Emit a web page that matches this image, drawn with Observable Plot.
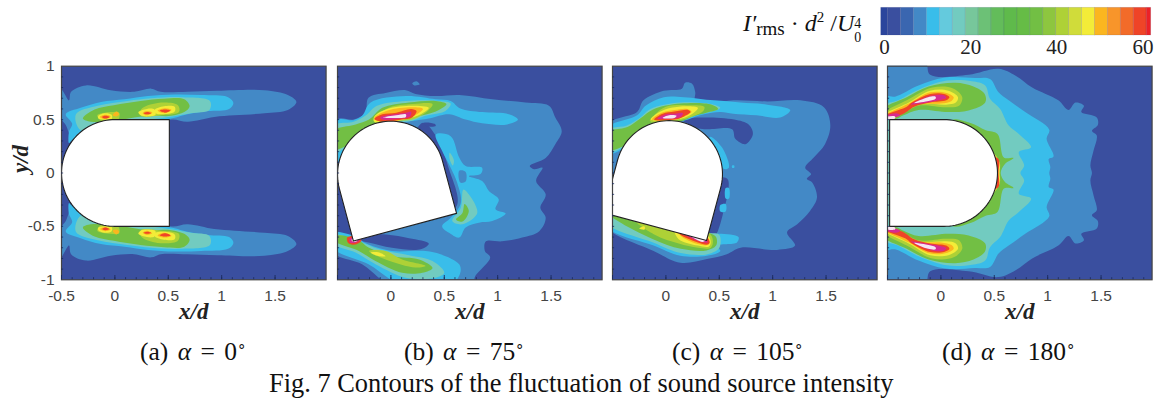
<!DOCTYPE html>
<html><head><meta charset="utf-8">
<script src="https://cdn.jsdelivr.net/npm/d3@7"></script>
<script src="https://cdn.jsdelivr.net/npm/@observablehq/plot@0.6"></script>
<style>
html,body{margin:0;padding:0;background:#fff;width:1162px;height:401px;overflow:hidden}
#root{position:relative;width:1162px;height:401px}
#root svg{position:absolute;background:transparent;max-width:none}
.t{position:absolute;font-family:"Liberation Serif",serif;color:#111;white-space:nowrap;line-height:1}
</style></head><body><div id="root"></div>
<script>
// colour bar: band edges (value units) and band colours
const bandEdges=[0.85,3.85,6.85,9.85,12.85,15.85,18.85,21.85,24.85,27.85,30.85,33.85,36.85,39.85,42.85,45.85,48.85,51.85,54.85,57.85,60.85,63,68];
const bandColors=["#2b459c","#3a4f9f","#3a66b0","#4389c6","#39bdea","#64cadd","#72cbc0","#77c79b","#6cc176","#63bc5a","#5fba4b","#66bc46","#72bf44","#8dc63f","#aed136","#d0dc3a","#f3ec38","#fbb61f","#f8952a","#f26b29","#ef4427","#ec2127","#d62b8f","#f6e6f2"];
const barTicks=[0,20,40,60];
const captions=["(a) ","(b) ","(c) ","(d) "];
const alphas=[0,75,105,180];

// iso-level regions: [level, x,y, x,y, ...] in x/d, y/d, painted from low to high
const panelA=[
[8,-0.5,0.78,-0.43,0.68,-0.41,0.76,-0.27,0.82,-0.04,0.775,0.18,0.76,0.34,0.79,0.43,0.76,0.68,0.76,0.96,0.77,1.4,0.775,1.62,0.73,1.7,0.665,1.62,0.59,1.4,0.56,1.12,0.54,0.93,0.525,0.68,0.48,0.525,0.5,0.3,0.4,-0.38,0.31,-0.46,0.45,-0.5,0.51],
[11,-0.46,0.55,-0.32,0.61,-0.13,0.665,0.09,0.69,0.31,0.72,0.56,0.735,0.81,0.73,1.06,0.71,1.11,0.655,1.07,0.6,0.87,0.58,0.68,0.55,0.525,0.51,-0.01,0.46,-0.29,0.385,-0.41,0.3,-0.43,0.28,-0.43,0.385,-0.4,0.46],
[17,-0.365,0.55,-0.16,0.63,0.12,0.675,0.34,0.7,0.62,0.71,0.89,0.675,0.885,0.59,0.71,0.56,0.54,0.53,0.02,0.46,-0.32,0.4],
[36,-0.3,0.51,-0.19,0.595,-0.01,0.635,0.24,0.675,0.46,0.695,0.65,0.69,0.7,0.625,0.65,0.57,0.525,0.535,0.31,0.535,0,0.49,-0.225,0.48],
[42,-0.165,0.54,-0.04,0.57,0.04,0.565,0.03,0.5,-0.13,0.49],
[42,0.245,0.595,0.4,0.655,0.59,0.635,0.6,0.57,0.43,0.54,0.245,0.535],
[48,-0.155,0.535,-0.09,0.56,-0.03,0.545,-0.03,0.505,-0.1,0.5,-0.155,0.51],
[50,-0.02,0.54,0.015,0.575,0.04,0.55,0.015,0.53],
[48,0.22,0.57,0.3,0.6,0.37,0.595,0.38,0.545,0.3,0.53,0.24,0.54],
[48,0.37,0.59,0.46,0.625,0.56,0.62,0.56,0.575,0.46,0.55,0.38,0.56],
[50,-0.14,0.525,-0.09,0.545,-0.04,0.53,-0.09,0.505],
[50,0.26,0.56,0.3,0.58,0.35,0.565,0.3,0.54],
[50,0.4,0.585,0.46,0.605,0.53,0.59,0.46,0.56],
[58,-0.12,0.525,-0.09,0.535,-0.05,0.525,-0.09,0.51],
[58,0.27,0.56,0.3,0.57,0.34,0.56,0.3,0.55],
[58,0.42,0.585,0.47,0.595,0.52,0.585,0.47,0.565]];

const panelB=[
[8,-0.5,0.5,-0.35,0.5,-0.24,0.565,-0.21,0.705,-0.05,0.75,0.14,0.775,0.23,0.74,0.42,0.72,0.64,0.73,0.95,0.69,1.26,0.66,1.48,0.63,1.54,0.52,1.6,0.39,1.54,0.27,1.45,0.14,1.3,0.065,1.34,0.035,1.42,0.05,1.36,-0.075,1.45,-0.2,1.4,-0.325,1.45,-0.42,1.39,-0.545,1.23,-0.605,1.04,-0.64,0.89,-0.64,0.88,-0.73,0.93,-0.79,0.79,-0.965,0.76,-1.05,0.01,-1.05,-0.27,-0.855,-0.55,-0.73,-0.55,0],
[8,0.2,0.84,0.24,0.86,0.27,0.83,0.22,0.82],
[0,-0.36,-0.62,-0.14,-0.575,0.17,-0.61,0.355,-0.66,0.28,-0.715,0.01,-0.7,-0.21,-0.65],
[0,-0.55,0,-0.3,-0.4,-0.35,-0.6,-0.55,-0.55],
[0,0.3,0.47,0.42,0.35,0.54,0.05,0.62,-0.3,0.45,-0.4,0.2,-0.3,0.2,0.3],
[0,0.31,0.47,0.41,0.46,0.42,0.44,0.33,0.44],
[11,-0.5,0.495,-0.35,0.495,-0.27,0.535,-0.19,0.66,0.14,0.72,0.42,0.69,0.56,0.675,0.65,0.605,0.855,0.57,1.105,0.55,1.19,0.5,1.09,0.455,0.855,0.465,0.7,0.5,0.545,0.55,0.355,0.51,0.01,0.44,-0.455,0.11,-0.55,0.14],
[11,0.42,0.36,0.56,0.345,0.64,0.145,0.7,0.065,0.855,0.05,0.84,-0.01,0.73,-0.03,0.855,-0.075,0.92,-0.17,1.01,-0.245,0.98,-0.34,1.075,-0.38,0.95,-0.45,0.825,-0.465,0.7,-0.51,0.64,-0.605,0.545,-0.56,0.48,-0.5,0.56,-0.42,0.655,-0.28,0.62,-0.09,0.56,0.05,0.48,0.205],
[8,0.64,0.02,0.7,0.01,0.7,-0.08,0.65,-0.09],
[17,0.68,-0.155,0.81,-0.37,0.67,-0.48,0.575,-0.45,0.655,-0.325],
[17,0.55,0.19,0.59,0.12,0.58,0.07,0.55,0.13],
[36,0.69,-0.29,0.73,-0.355,0.67,-0.455,0.61,-0.435,0.67,-0.375],
[11,-0.55,-0.56,-0.36,-0.585,-0.21,-0.67,0.01,-0.73,0.325,-0.73,0.465,-0.76,0.64,-0.855,0.65,-0.935,0.56,-1.05,0.105,-1.05,-0.21,-0.855,-0.55,-0.7],
[17,-0.52,-0.58,-0.3,-0.64,-0.11,-0.715,0.17,-0.77,0.39,-0.825,0.5,-0.935,0.42,-0.98,0.14,-0.98,-0.14,-0.856,-0.33,-0.745,-0.52,-0.67],
[36,-0.52,-0.59,-0.315,-0.62,-0.205,-0.7,0.015,-0.78,0.265,-0.81,0.39,-0.89,0.295,-0.935,0.105,-0.935,-0.145,-0.825,-0.3,-0.73,-0.52,-0.64],
[42,-0.205,-0.73,-0.05,-0.73,0.105,-0.81,0.325,-0.87,0.23,-0.885,-0.05,-0.81],
[48,-0.19,-0.745,-0.11,-0.745,-0.05,-0.78,-0.145,-0.77],
[58,-0.41,-0.605,-0.345,-0.59,-0.275,-0.63,-0.33,-0.67,-0.4,-0.655],
[65,-0.39,-0.62,-0.345,-0.605,-0.295,-0.63,-0.34,-0.655,-0.385,-0.65],
[70,-0.37,-0.625,-0.34,-0.615,-0.315,-0.635,-0.35,-0.645],
[17,-0.55,0.44,-0.35,0.48,-0.24,0.535,-0.13,0.63,0.14,0.675,0.45,0.675,0.56,0.65,0.51,0.58,0.325,0.535,0.2,0.49,-0.2,0.44,-0.425,0.24,-0.55,0.175],
[36,-0.55,0.39,-0.33,0.455,-0.205,0.5,-0.08,0.61,0.17,0.66,0.42,0.675,0.52,0.645,0.45,0.59,0.28,0.535,0.01,0.49,-0.2,0.44,-0.425,0.25,-0.55,0.22],
[42,-0.145,0.52,-0.02,0.61,0.2,0.645,0.39,0.645,0.355,0.59,0.2,0.5,-0.05,0.49,-0.145,0.47],
[48,-0.15,0.535,-0.035,0.6,0.2,0.63,0.355,0.61,0.28,0.55,0.14,0.505,-0.08,0.47,-0.16,0.485],
[50,-0.155,0.515,-0.03,0.585,0.2,0.615,0.3,0.6,0.25,0.555,0.14,0.51,-0.08,0.48],
[58,-0.155,0.505,-0.08,0.55,0.05,0.565,0.19,0.6,0.24,0.58,0.2,0.52,0.1,0.5,-0.08,0.48],
[65,-0.1,0.52,0,0.545,0.14,0.565,0.19,0.575,0.18,0.53,0.08,0.51,-0.08,0.5],
[70,-0.07,0.52,0.05,0.54,0.14,0.55,0.14,0.525,0.05,0.515]];

const panelC=[
[8,-0.55,0.445,-0.27,0.57,-0.21,0.68,-0.02,0.77,0.15,0.79,0.18,0.845,0.245,0.835,0.275,0.755,0.275,0.68,0.45,0.66,0.635,0.68,0.95,0.67,1.26,0.68,1.48,0.615,1.54,0.445,1.49,0.27,1.385,0.145,1.305,0.05,1.36,-0.01,1.32,-0.055,1.37,-0.09,1.415,-0.23,1.35,-0.355,1.23,-0.48,1.135,-0.555,1.21,-0.68,1.04,-0.72,0.7,-0.7,0.57,-0.76,0.385,-0.805,0.135,-0.84,-0.115,-0.73,-0.55,-0.51,-0.55,-0.35],
[0,0.15,0.5,0.35,0.52,0.64,0.5,0.775,0.453,0.815,0.365,0.745,0.27,0.65,0.32,0.62,0.41,0.385,0.41,0.3,0.42],
[0,0.5,-0.05,0.58,-0.06,0.53,-0.4,0.45,-0.6,0.38,-0.6],
[11,0.415,0.34,0.525,0.24,0.59,0.05,0.54,0.04,0.48,0.21,0.4,0.31],
[11,0.56,-0.14,0.59,-0.14,0.59,-0.24,0.56,-0.24],
[11,0.51,-0.3,0.56,-0.29,0.56,-0.36,0.51,-0.36],
[11,0.62,0.07,0.64,0.07,0.64,0.05,0.62,0.05],
[11,-0.55,0.42,-0.27,0.54,-0.19,0.63,-0.02,0.71,0.17,0.71,0.45,0.68,0.7,0.66,0.95,0.64,1.165,0.59,1.07,0.52,0.85,0.54,0.63,0.555,0.51,0.57,0.32,0.54,0.165,0.49,-0.15,0.46,-0.43,0.21,-0.55,0.18],
[11,-0.55,-0.38,-0.3,-0.48,0.1,-0.54,0.415,-0.585,0.48,-0.57,0.68,-0.6,0.665,-0.65,0.48,-0.68,0.51,-0.73,0.385,-0.775,0.135,-0.775,-0.115,-0.68,-0.55,-0.51],
[17,-0.55,-0.37,0.4,-0.56,0.5,-0.58,0.5,-0.7,0.39,-0.76,0.14,-0.75,-0.12,-0.65,-0.55,-0.475],
[36,-0.55,-0.37,0.4,-0.56,0.47,-0.6,0.47,-0.68,0.38,-0.725,0.14,-0.71,-0.12,-0.62,-0.45,-0.45],
[42,-0.28,-0.45,0.4,-0.56,0.44,-0.63,0.42,-0.7,0.3,-0.7,0.12,-0.66,-0.1,-0.58],
[48,-0.25,-0.52,-0.2,-0.5,-0.2,-0.53],
[48,0.08,-0.52,0.39,-0.58,0.42,-0.65,0.4,-0.69,0.3,-0.68,0.12,-0.62],
[50,0.1,-0.52,0.38,-0.59,0.41,-0.65,0.39,-0.675,0.3,-0.665,0.14,-0.59],
[58,0.11,-0.55,0.2,-0.54,0.38,-0.6,0.41,-0.65,0.39,-0.67,0.3,-0.65,0.14,-0.58],
[65,0.14,-0.56,0.22,-0.55,0.37,-0.61,0.39,-0.65,0.3,-0.635,0.18,-0.58],
[70,0.22,-0.575,0.3,-0.585,0.37,-0.625,0.35,-0.645,0.28,-0.62],
[17,-0.55,0.4,-0.365,0.445,-0.24,0.52,-0.145,0.6,0.135,0.66,0.45,0.64,0.51,0.61,0.415,0.57,0.26,0.54,0.135,0.485,-0.15,0.44,-0.4,0.24,-0.55,0.19],
[36,-0.55,0.38,-0.36,0.43,-0.24,0.51,-0.12,0.595,0.135,0.65,0.43,0.64,0.49,0.6,0.38,0.565,0.25,0.53,0.135,0.48,-0.15,0.44,-0.4,0.25,-0.55,0.215],
[42,-0.15,0.49,-0.1,0.55,0,0.62,0.2,0.635,0.36,0.62,0.35,0.58,0.25,0.53,0.1,0.49,-0.1,0.47],
[48,-0.14,0.5,-0.06,0.57,0.05,0.61,0.2,0.625,0.3,0.61,0.27,0.57,0.18,0.52,0,0.49],
[50,-0.13,0.5,-0.04,0.565,0.08,0.59,0.2,0.6,0.24,0.575,0.2,0.54,0.08,0.5,-0.08,0.49],
[58,-0.11,0.5,-0.03,0.555,0.08,0.575,0.21,0.59,0.23,0.57,0.17,0.53,0.08,0.5],
[65,-0.08,0.51,0,0.55,0.08,0.555,0.16,0.56,0.14,0.525,0.05,0.51],
[70,-0.03,0.515,0.03,0.54,0.1,0.535,0.08,0.515]];

// upper half; a region ending on y = 0 is continued by its reflection
const panelD=[
[8,-0.55,1.05,-0.15,1.05,-0.1,0.92,0.26,0.92,0.54,0.975,0.7,0.91,0.855,0.8,1.1,0.68,1.195,0.59,1.26,0.66,1.34,0.63,1.315,0.57,1.46,0.52,1.47,0.45,1.415,0.395,1.46,0.35,1.43,0.21,1.4,0.07,1.415,0],
[11,-0.55,0.71,-0.43,0.715,-0.21,0.82,0.04,0.895,0.32,0.89,0.46,0.88,0.54,0.755,0.635,0.68,0.79,0.57,1.015,0.405,0.99,0.32,1.055,0.155,1.01,0.13,1.025,0.055,1.015,0],
[17,-0.55,0.615,-0.4,0.68,-0.21,0.78,0.055,0.865,0.29,0.86,0.415,0.82,0.46,0.695,0.555,0.6,0.635,0.445,0.73,0.365,0.845,0.24,0.73,0.195,0.78,0.07,0.745,0],
[36,-0.55,0.59,-0.32,0.71,-0.115,0.81,0.135,0.845,0.305,0.81,0.41,0.74,0.415,0.66,0.26,0.585,0.07,0.57,-0.21,0.59,-0.35,0.54,-0.43,0.505],
[36,0.1,0.49,0.27,0.47,0.42,0.4,0.53,0.365,0.59,0.145,0.68,0.14,0.6,0.085,0.56,0],
[42,-0.55,0.55,-0.32,0.68,-0.08,0.8,0.12,0.79,0.2,0.71,0.17,0.63,0.05,0.615,-0.21,0.63,-0.35,0.56,-0.44,0.52],
[48,-0.55,0.54,-0.3,0.66,-0.1,0.77,0.07,0.77,0.16,0.71,0.14,0.66,0.05,0.64,-0.21,0.645,-0.35,0.57],
[50,-0.55,0.53,-0.3,0.65,-0.1,0.755,0.05,0.75,0.12,0.71,0.1,0.675,0,0.65,-0.2,0.645,-0.36,0.57],
[58,-0.55,0.53,-0.32,0.62,-0.28,0.655,-0.1,0.74,0.03,0.74,0.08,0.71,0.05,0.68,-0.1,0.66,-0.25,0.62,-0.37,0.545],
[65,-0.28,0.64,-0.1,0.72,0.02,0.73,0.05,0.705,-0.05,0.675,-0.2,0.65],
[65,-0.55,0.52,-0.42,0.56,-0.38,0.54,-0.55,0.5],
[70,-0.25,0.655,-0.12,0.71,-0.05,0.715,-0.05,0.695,-0.2,0.66],
[70,-0.55,0.515,-0.43,0.53,-0.43,0.51,-0.55,0.5],
[48,0.47,0.2,0.55,0.1,0.55,0],
[58,0.47,0.15,0.54,0.13,0.54,0]];

const panels=[
 {left:60.5,data:panelA,mirror:true, cx:0,   cy:0,     xTicks:[-0.5,0,0.5,1,1.5],yAxis:true, cap:[140,"0"]},
 {left:336.7,data:panelB,mirror:false,cx:0,   cy:-0.015,xTicks:[0,0.5,1,1.5],yAxis:false,cap:[404,"75"]},
 {left:612,data:panelC,mirror:false,cx:0.03,cy:-0.01, xTicks:[0,0.5,1,1.5],yAxis:false,cap:[672,"105"]},
 {left:887.3,data:panelD,mirror:true, cx:0.03,cy:0,     xTicks:[0,0.5,1,1.5],yAxis:false,cap:[942,"180"]}
];
const minorX=d3.range(-4,20).map(d=>d/10), minorY=d3.range(-9,10).map(d=>d/10);
const colorScale={type:"threshold",domain:bandEdges,range:bandColors};

function toRows(p,flip){const r=[];for(let i=1;i<p.length;i+=2)r.push({x:p[i],y:flip?-p[i+1]:p[i+1],v:p[0]});return r;}
function body(alpha,cx,cy){ // D-shaped cylinder: half circle + square rear, rotated by -alpha
  const a=-alpha*Math.PI/180,pts=[];
  for(let t=90;t<=270;t+=3){const r=t*Math.PI/180;pts.push([0.5*Math.cos(r),0.5*Math.sin(r)]);}
  pts.push([0.51,-0.5],[0.51,0.5],pts[0]);
  return pts.map(([u,v])=>({x:cx+u*Math.cos(a)-v*Math.sin(a),y:cy+u*Math.sin(a)+v*Math.cos(a)}));
}
const root=document.getElementById("root");
panels.forEach((p,i)=>{
  const marks=[Plot.frame({fill:bandColors[1],stroke:"none"})];
  const draw=rows=>{
    const v=rows[0].v;
    marks.push(Plot.line(rows,{x:"x",y:"y",fill:v===0?bandColors[1]:"v",stroke:"none",curve:"catmull-rom-closed",clip:true}));
  };
  p.data.forEach(d=>{
    const top=toRows(d,false);
    if(p.mirror&&top[top.length-1].y===0){
      draw(top.concat(toRows(d,true).slice(0,-1).reverse()));
    }else{
      draw(top);
      if(p.mirror)draw(toRows(d,true));
    }
  });
  marks.push(Plot.line(body(alphas[i],p.cx,p.cy),{x:"x",y:"y",fill:"#fff",stroke:"#222",strokeWidth:1.1,clip:true}));
  marks.push(Plot.frame({stroke:"#444",strokeWidth:1.2}));
  marks.push(Plot.ruleX(minorX,{y1:-1,y2:-0.98,stroke:"#1b2a5c",strokeWidth:0.8}));
  marks.push(Plot.ruleX([-0.5,0,0.5,1,1.5],{y1:-1,y2:-0.96,stroke:"#1b2a5c",strokeWidth:0.9}));
  marks.push(Plot.ruleY(minorY,{x1:-0.5,x2:-0.48,stroke:"#1b2a5c",strokeWidth:0.8}));
  marks.push(Plot.axisX({ticks:p.xTicks,tickSize:0,tickPadding:10,label:null,fontSize:15.5,fontFamily:"Liberation Sans",fill:"#444",tickFormat:d=>String(d)}));
  if(p.yAxis)marks.push(Plot.axisY({ticks:[-1,-0.5,0,0.5,1],tickSize:0,tickPadding:7,label:null,fontSize:15.5,fontFamily:"Liberation Sans",fill:"#444",tickFormat:d=>String(d)}));
  marks.push(Plot.text(["x/d"],{frameAnchor:"bottom",dy:39,fontFamily:"Liberation Serif",fontStyle:"italic",fontWeight:"bold",fontSize:23,fill:"#222"}));
  if(p.yAxis)marks.push(Plot.text(["y/d"],{frameAnchor:"left",dx:-41,rotate:-90,fontFamily:"Liberation Serif",fontStyle:"italic",fontWeight:"bold",fontSize:23,fill:"#222"}));
  const ml=p.yAxis?60:20;
  const svg=Plot.plot({width:ml+264.6+4,height:270,marginLeft:ml,marginRight:4,marginTop:15.7,marginBottom:270-15.7-213.6,
    x:{domain:[-0.5,1.978],axis:null},y:{domain:[-1,1],axis:null},color:colorScale,style:{background:"transparent",overflow:"visible"},marks});
  svg.style.left=(p.left-ml)+"px";svg.style.top="50px";
  root.appendChild(svg);
  const cap=document.createElement("div");cap.className="t";
  cap.style.cssText=`left:${p.cap[0]}px;top:339px;font-size:25.5px;word-spacing:3px`;
  cap.innerHTML=`${captions[i]}<i>α</i> = ${p.cap[1]}<sup style="font-size:15px;line-height:0">∘</sup>`;
  root.appendChild(cap);
});
// colour bar
const barRows=bandColors.slice(0,22).map((c,i)=>({x1:i===0?-0.77:bandEdges[i-1],x2:i===21?61.9:bandEdges[i],v:i===0?0:(i===21?61:(bandEdges[i-1]+bandEdges[i])/2)}));
const bar=Plot.plot({width:272,height:62,marginLeft:0.7,marginRight:1.3,marginTop:7.3,marginBottom:27,
  x:{domain:[-0.77,61.9],axis:null},color:colorScale,style:{background:"transparent",overflow:"visible"},
  marks:[Plot.rect(barRows,{x1:"x1",x2:"x2",fill:"v",stroke:"#2a3a70",strokeOpacity:0.18,strokeWidth:0.7}),
    Plot.axisX({ticks:barTicks,tickSize:0,tickPadding:4,label:null,fontSize:21,fontFamily:"Liberation Serif",fill:"#222"})]});
bar.style.left="880px";bar.style.top="0px";root.appendChild(bar);
const title=document.createElement("div");title.className="t";
title.style.cssText="left:743px;top:11px;font-size:24px";
title.innerHTML=`<i>I′</i><span style="font-size:19px;position:relative;top:4px">rms</span> · <i>d</i><sup style="font-size:15px;line-height:0">2</sup> /<i>U</i><span style="display:inline-block;position:relative;width:10px;height:10px;font-size:14px"><span style="position:absolute;left:0;top:-4px">4</span><span style="position:absolute;left:0;top:10px">0</span></span>`;
root.appendChild(title);
const fig=document.createElement("div");fig.className="t";
fig.style.cssText="left:269px;top:370px;font-size:26.4px";
fig.textContent="Fig. 7 Contours of the fluctuation of sound source intensity";
root.appendChild(fig);
</script></body></html>
